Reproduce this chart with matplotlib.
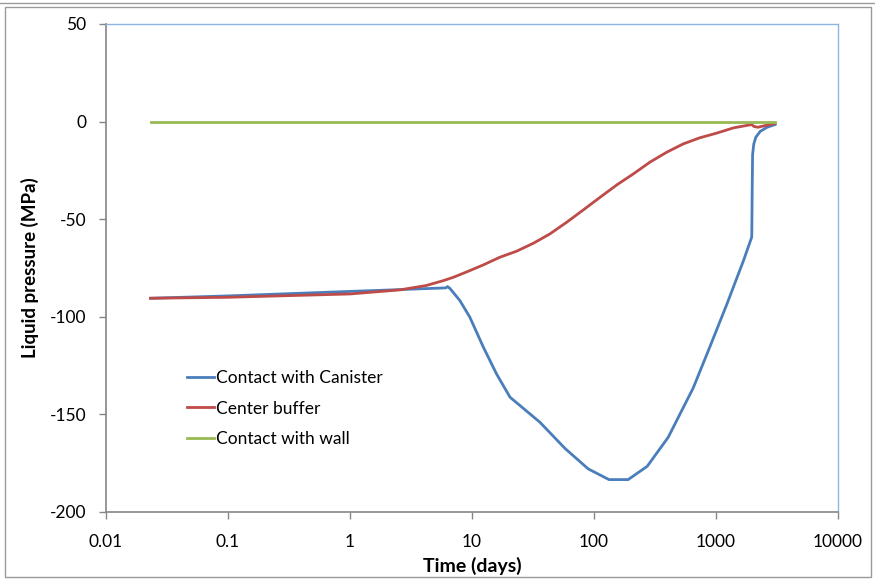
import matplotlib
matplotlib.use("Agg")
import matplotlib.pyplot as plt
from matplotlib.patches import Rectangle
from matplotlib.lines import Line2D
from matplotlib.ticker import FixedLocator, FixedFormatter, NullLocator

# ---- data ----
blue_t = [0.0232, 0.1, 1, 2.25, 4, 6.1, 6.3, 6.6, 7.96, 9.6, 12.4, 15.9, 20.5,
          36, 58, 89.6, 132.7, 190.5, 273, 406, 650, 888, 1230, 1680, 1960,
          1965, 1980, 1995, 2040, 2120, 2305, 2624, 3050]
blue_p = [-90.5, -89.3, -87.0, -86.2, -85.6, -85.2, -84.5, -85.5, -91.7, -100.2,
          -115.6, -129.3, -141.2, -154.0, -167.5, -177.9, -183.4, -183.4, -176.6,
          -161.7, -136.5, -115.6, -93.4, -71.2, -59.3, -57.5, -35.0, -17.0,
          -11.5, -8.0, -5.0, -2.9, -1.5]

red_t = [0.0232, 0.1, 1, 2.57, 4.2, 5.8, 7.0, 9.05, 12.5, 16.9, 23.2, 31.9, 43.6,
         59.6, 81.9, 112, 154, 210, 287, 394, 540, 736, 1000, 1394, 1960, 2050,
         2200, 3050]
red_p = [-90.5, -90.0, -88.3, -86.2, -84.0, -81.5, -79.8, -77.0, -73.3, -69.5,
         -66.4, -62.3, -57.5, -51.6, -45.2, -38.8, -32.4, -26.8, -20.8, -15.7,
         -11.4, -8.3, -6.0, -3.2, -1.5, -2.5, -2.9, -0.9]

green_t = [0.0232, 1, 100, 3050]
green_p = [0, 0, 0, 0]

labels = ["Contact with Canister", "Center buffer", "Contact with wall"]
x_ticks = [0.01, 0.1, 1, 10, 100, 1000, 10000]
x_tick_labels = ["0.01", "0.1", "1", "10", "100", "1000", "10000"]
y_ticks = [-200, -150, -100, -50, 0, 50]

plt.rcParams['font.family'] = ['Lato', 'DejaVu Sans']

fig = plt.figure(figsize=(8.75, 5.8), dpi=100)
ax = fig.add_axes([106/875, 1-512/580, 732/875, 488/580])

ax.plot(blue_t, blue_p, color='#4A7EBB', lw=2.0, label=labels[0])
ax.plot(red_t, red_p, color='#BE4B48', lw=2.0, label=labels[1])
ax.plot(green_t, green_p, color='#98B954', lw=2.0, label=labels[2])

ax.set_xscale('log')
ax.set_xlim(0.01, 10000)
ax.set_ylim(-200, 50)
ax.xaxis.set_major_locator(FixedLocator(x_ticks))
ax.xaxis.set_major_formatter(FixedFormatter(x_tick_labels))
ax.xaxis.set_minor_locator(NullLocator())
ax.set_yticks(y_ticks)
ax.set_yticklabels([str(v) for v in y_ticks])

ax.tick_params(axis='both', labelsize=12.5, length=5, width=1, color='#868686',
               direction='out')
ax.tick_params(axis='x', pad=11)
ax.tick_params(axis='y', pad=9)

for s in ['left', 'bottom']:
    ax.spines[s].set_color('#868686')
    ax.spines[s].set_linewidth(1.2)
for s in ['top', 'right']:
    ax.spines[s].set_color('#8EB4E3')
    ax.spines[s].set_linewidth(1.0)

ax.set_xlabel("Time (days)", fontsize=14, fontweight='bold', labelpad=5)
ax.set_ylabel("Liquid pressure (MPa)", fontsize=13.5, fontweight='bold', labelpad=8)

leg = ax.legend(loc='upper left', bbox_to_anchor=(0.11, 0.291), frameon=False,
                fontsize=12.5, handlelength=1.6, handletextpad=0.1,
                labelspacing=0.84, borderpad=0, borderaxespad=0)

# outer chart frame and remnant of chart above
fig.add_artist(Rectangle((5/875, 3/580), 866/875, 570/580, transform=fig.transFigure,
                         fill=False, edgecolor='#9a9a9a', lw=1.0))
fig.add_artist(Line2D([0, 1], [1-3/580, 1-3/580], transform=fig.transFigure,
                      color='#9a9a9a', lw=1.0))

fig.savefig("out.png", dpi=100)
